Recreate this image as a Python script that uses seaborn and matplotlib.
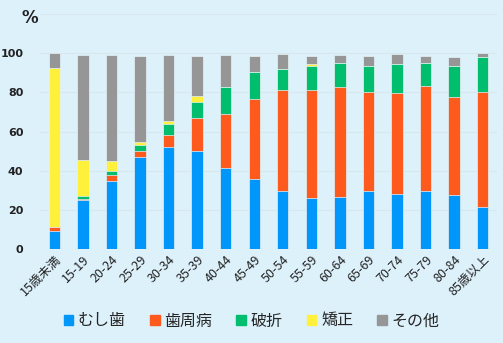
import numpy as np
import pandas as pd
import matplotlib
matplotlib.use("Agg")
import matplotlib.pyplot as plt
import seaborn as sns

categories = ["15歳未満", "15-19", "20-24", "25-29", "30-34", "35-39", "40-44", "45-49",
              "50-54", "55-59", "60-64", "65-69", "70-74", "75-79", "80-84", "85歳以上"]
mushiba = [9.4, 25.2, 34.9, 46.9, 52.0, 49.8, 41.3, 35.7, 29.4, 26.0, 26.5, 29.4, 28.1, 29.4, 27.7, 21.3]
shishubyo = [1.7, 0.5, 2.7, 2.9, 6.2, 16.9, 27.6, 40.8, 51.6, 55.0, 56.0, 50.7, 51.5, 53.9, 49.9, 58.8]
hasetsu = [0.0, 1.3, 2.0, 3.4, 5.6, 8.3, 13.8, 13.8, 11.0, 12.7, 12.4, 13.6, 14.8, 11.6, 16.1, 17.7]
kyousei = [81.2, 18.2, 5.1, 1.4, 1.5, 2.9, 0.0, 0.0, 0.0, 0.9, 0.0, 0.0, 0.0, 0.0, 0.0, 0.0]
sonota = [7.7, 53.9, 54.4, 44.0, 33.8, 20.4, 16.4, 8.5, 7.7, 4.0, 4.2, 5.1, 5.3, 3.9, 4.3, 2.2]

series_names = ["むし歯", "歯周病", "破折", "矯正", "その他"]
series_vals = [mushiba, shishubyo, hasetsu, kyousei, sonota]
colors = ["#0096FA", "#FF5A1E", "#00BE6E", "#FFF03C", "#969696"]

bg = "#DDF1FB"
sns.set_theme(style="white")
plt.rcParams['font.family'] = ['Noto Sans CJK JP', 'DejaVu Sans']

fig = plt.figure(figsize=(5.03, 3.43), dpi=100, facecolor=bg)
ax = fig.add_axes([40/503, 1-249/343, 457/503, 235/343])
ax.set_facecolor(bg)

cum = np.cumsum(np.array(series_vals), axis=0)
for i in range(len(series_names) - 1, -1, -1):
    df = pd.DataFrame({"cat": categories, "val": cum[i]})
    sns.barplot(data=df, x="cat", y="val", color=colors[i], width=0.4,
                edgecolor="#E6F3FA", linewidth=0.5, saturation=1, ax=ax, zorder=3)

ax.set_ylim(0, 120)
ax.set_xlim(-0.5, 15.5)
ax.set_yticks([0, 20, 40, 60, 80, 100, 120])
ax.set_yticklabels(["0", "20", "40", "60", "80", "100", ""], fontsize=8, fontweight="bold",
                   color="#222222", family=['DejaVu Sans'])
ax.yaxis.grid(True, color="#D8E6EE", linewidth=0.8, zorder=0)
ax.set_axisbelow(True)
ax.tick_params(axis="y", length=0, pad=12)
ax.tick_params(axis="x", length=0, pad=3)
ax.set_xticks(range(len(categories)))
ax.set_xticklabels(categories, rotation=45, ha="right", rotation_mode="anchor",
                   fontsize=9, color="#222222")
ax.set_xlabel("")
ax.set_ylabel("")
for s in ax.spines.values():
    s.set_visible(False)

fig.text(22/503, 1-18/343, "%", fontsize=12, fontweight="bold", color="#222222",
         ha="left", va="center", family=['DejaVu Sans'])

handles = [plt.Rectangle((0, 0), 1, 1, color=c) for c in colors]
fig.legend(handles, series_names, loc="center", bbox_to_anchor=(0.5, 1-321/343),
           ncol=5, frameon=False, fontsize=11.5, handlelength=0.6, handleheight=0.6,
           handletextpad=0.3, columnspacing=1.5)

fig.savefig("out.png", dpi=100, facecolor=bg)
